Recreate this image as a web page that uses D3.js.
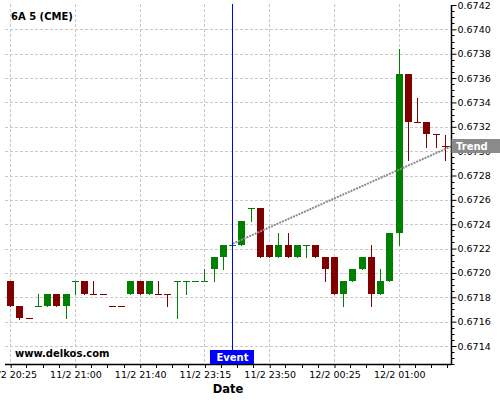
<!DOCTYPE html>
<html>
<head>
<meta charset="utf-8">
<script src="https://cdn.jsdelivr.net/npm/d3@7"></script>
<style>
  html, body { margin: 0; padding: 0; background: #fff; }
  svg { display: block; }
  text { font-family: "DejaVu Sans", sans-serif; }
</style>
</head>
<body>
<script>
// ---- data ----
const opens  = [0.67193,0.67173,0.67163,0.67173,0.67173,0.67183,0.67173,0.67193,0.67193,0.67183,0.67183,0.67173,0.67173,0.67183,0.67193,0.67183,0.67183,0.67183,0.67193,0.67193,0.67193,0.67193,0.67203,0.67213,0.67223,0.67223,0.67253,0.67253,0.67223,0.67213,0.67223,0.67213,0.67223,0.67223,0.67213,0.67213,0.67183,0.67193,0.67203,0.67213,0.67183,0.67193,0.67233,0.67363,0.67324,0.67324,0.67314,0.67304];
const highs  = [0.67193,0.67173,0.67163,0.67183,0.67183,0.67183,0.67183,0.67193,0.67193,0.67193,0.67183,0.67173,0.67173,0.67193,0.67193,0.67193,0.67193,0.67183,0.67193,0.67193,0.67193,0.67203,0.67213,0.67223,0.67223,0.67243,0.67253,0.67253,0.67223,0.67233,0.67233,0.67223,0.67223,0.67223,0.67213,0.67213,0.67193,0.67203,0.67213,0.67223,0.67203,0.67233,0.67384,0.67363,0.67344,0.67324,0.67314,0.67313];
const lows   = [0.67173,0.67162,0.67163,0.67173,0.67173,0.67173,0.67163,0.67183,0.67183,0.67183,0.67183,0.67173,0.67173,0.67183,0.67183,0.67183,0.67183,0.67173,0.67163,0.67183,0.67193,0.67193,0.67193,0.67203,0.67223,0.67223,0.67243,0.67213,0.67213,0.67213,0.67213,0.67213,0.67213,0.67213,0.67193,0.67183,0.67173,0.67193,0.67203,0.67173,0.67183,0.67193,0.67223,0.67293,0.67324,0.67303,0.67303,0.67293];
const closes = [0.67173,0.67163,0.67163,0.67173,0.67183,0.67173,0.67183,0.67193,0.67183,0.67183,0.67183,0.67173,0.67173,0.67193,0.67183,0.67193,0.67183,0.67183,0.67193,0.67193,0.67193,0.67193,0.67213,0.67223,0.67223,0.67243,0.67253,0.67213,0.67213,0.67223,0.67213,0.67223,0.67223,0.67213,0.67203,0.67183,0.67193,0.67203,0.67213,0.67183,0.67193,0.67233,0.67363,0.67324,0.67324,0.67314,0.67314,0.67304];
const directions = ["down","down","down","up","up","down","up","up","down","down","down","down","down","up","down","up","down","down","up","up","up","up","up","up","up","up","up","down","down","up","down","up","up","down","down","down","up","up","up","down","up","up","up","down","down","down","down","down"];
const xTickIndex  = [0, 7, 14, 21, 28, 35, 42];
const xTickLabels = ["11/2 20:25","11/2 21:00","11/2 21:40","11/2 23:15","11/2 23:50","12/2 00:25","12/2 01:00"];
const yTicks = [0.6714,0.6716,0.6718,0.6720,0.6722,0.6724,0.6726,0.6728,0.6730,0.6732,0.6734,0.6736,0.6738,0.6740,0.6742];
const eventIndex = 24;
const trendValues = [0.67224, 0.67304];   // start (at event) and end (at right edge)
const title = "6A 5 (CME)";

(function () {
// ---- layout ----
const W = 500, H = 400;
const pLeft = 5, pRight = 451.5, pTop = 4, pBottom = 364;

const svg = d3.select("body").append("svg").attr("width", W).attr("height", H);

const x = d3.scaleLinear().domain([0, opens.length - 1]).range([10.7, 445.5]);
const y = d3.scaleLinear().domain([0.6714, 0.6742]).range([346, 5]);
const xIdxRight = x.invert(pRight);

const GREEN = "#008000", RED = "#800000";

// grid
const grid = svg.append("g").attr("stroke", "#c8c8c8").attr("stroke-width", 1).attr("stroke-dasharray", "3,2");
grid.selectAll("line.h").data(yTicks.filter(v => v < 0.6741)).enter().append("line")
  .attr("x1", pLeft).attr("x2", pRight)
  .attr("y1", d => Math.round(y(d)) + 0.5).attr("y2", d => Math.round(y(d)) + 0.5);
grid.selectAll("line.v").data(xTickIndex).enter().append("line")
  .attr("x1", d => Math.floor(x(d)) + 0.5).attr("x2", d => Math.floor(x(d)) + 0.5)
  .attr("y1", pTop).attr("y2", pBottom);

// candles
const idx = d3.range(opens.length);
const cg = svg.append("g");
const col = i => directions[i] === "up" ? GREEN : RED;
cg.selectAll("line.wick").data(idx).enter().append("line")
  .attr("x1", i => Math.floor(x(i)) + 0.5).attr("x2", i => Math.floor(x(i)) + 0.5)
  .attr("y1", i => Math.round(y(highs[i]))).attr("y2", i => Math.round(y(lows[i])) + 1)
  .attr("stroke", col).attr("stroke-width", 1);
cg.selectAll("rect.body").data(idx).enter().append("rect")
  .attr("x", i => Math.round(x(i) - 3.5))
  .attr("width", 7)
  .attr("y", i => Math.round(y(Math.max(opens[i], closes[i]))))
  .attr("height", i => Math.max(1, Math.round(y(Math.min(opens[i], closes[i]))) - Math.round(y(Math.max(opens[i], closes[i])))))
  .attr("fill", col);

// trend line
const trendLine = d3.line().x(d => x(d[0])).y(d => y(d[1]));
svg.append("path")
  .attr("d", trendLine([[eventIndex, trendValues[0]], [xIdxRight, trendValues[1]]]))
  .attr("fill", "none").attr("stroke", "#8c8c8c").attr("stroke-width", 2).attr("stroke-dasharray", "2,1");

// event line
const ex = Math.floor(x(eventIndex)) + 0.5;
svg.append("line").attr("x1", ex).attr("x2", ex).attr("y1", pTop).attr("y2", 350)
  .attr("stroke", "#0000ff").attr("stroke-width", 1);

// right axis
const yAxis = d3.axisRight(y).tickValues(yTicks).tickSize(5).tickPadding(1).tickFormat(d3.format(".4f"));
const ya = svg.append("g").attr("transform", `translate(${pRight},0)`).call(yAxis);
ya.select(".domain").remove();
ya.selectAll("text").attr("font-size", "9.5px").attr("font-family", "DejaVu Sans").attr("fill", "#000");
// minor y ticks
const yMinor = d3.range(0.67125, 0.67421, 0.00005).filter(v => Math.abs(Math.round(v / 0.0002) * 0.0002 - v) > 1e-7);
svg.append("g").selectAll("line").data(yMinor).enter().append("line")
  .attr("x1", pRight).attr("x2", pRight + 3)
  .attr("y1", d => Math.round(y(d)) + 0.5).attr("y2", d => Math.round(y(d)) + 0.5)
  .attr("stroke", "#000");
svg.append("line").attr("x1", pRight).attr("x2", pRight).attr("y1", pTop + 1).attr("y2", pBottom + 1)
  .attr("stroke", "#000").attr("stroke-width", 1.5);

// bottom axis
const xAxis = d3.axisBottom(x).tickValues(xTickIndex).tickSize(4).tickPadding(3)
  .tickFormat((d, i) => xTickLabels[i]);
const xa = svg.append("g").attr("transform", `translate(0,${pBottom})`).call(xAxis);
xa.select(".domain").remove();
xa.selectAll("text").attr("font-size", "9.5px").attr("font-family", "DejaVu Sans").attr("fill", "#000");
const step = (xTickIndex[1] - xTickIndex[0]) / 4;
const xMinor = d3.range(xTickIndex[0], xIdxRight, step).filter(v => !xTickIndex.includes(v));
svg.append("g").selectAll("line").data(xMinor).enter().append("line")
  .attr("x1", d => Math.floor(x(d)) + 0.5).attr("x2", d => Math.floor(x(d)) + 0.5)
  .attr("y1", pBottom).attr("y2", pBottom + 4).attr("stroke", "#000");
svg.append("line").attr("x1", pLeft).attr("x2", pRight).attr("y1", pBottom + 0.5).attr("y2", pBottom + 0.5)
  .attr("stroke", "#000").attr("stroke-width", 1.5);

// Event label
svg.append("rect").attr("x", ex - 22.5).attr("y", 350).attr("width", 44).attr("height", 14).attr("fill", "#0000ff");
svg.append("text").attr("x", ex).attr("y", 361).attr("text-anchor", "middle")
  .attr("font-size", "10px").attr("font-weight", "bold").attr("fill", "#fff").text("Event");

// Trend label
svg.append("rect").attr("x", pRight).attr("y", 139).attr("width", 60).attr("height", 14).attr("fill", "#8a8a8a");
svg.append("text").attr("x", pRight + 4.5).attr("y", 150).attr("font-size", "10px").attr("font-weight", "bold")
  .attr("fill", "#fff").text("Trend");

// texts
svg.append("text").attr("x", 11).attr("y", 20).attr("font-size", "10px").attr("font-weight", "bold").text(title);
svg.append("text").attr("x", 15).attr("y", 357).attr("font-size", "10px").attr("font-weight", "bold").text("www.delkos.com");
svg.append("text").attr("x", 228).attr("y", 393).attr("text-anchor", "middle").attr("font-size", "11.5px").attr("font-weight", "bold").text("Date");
})();
</script>
</body>
</html>
